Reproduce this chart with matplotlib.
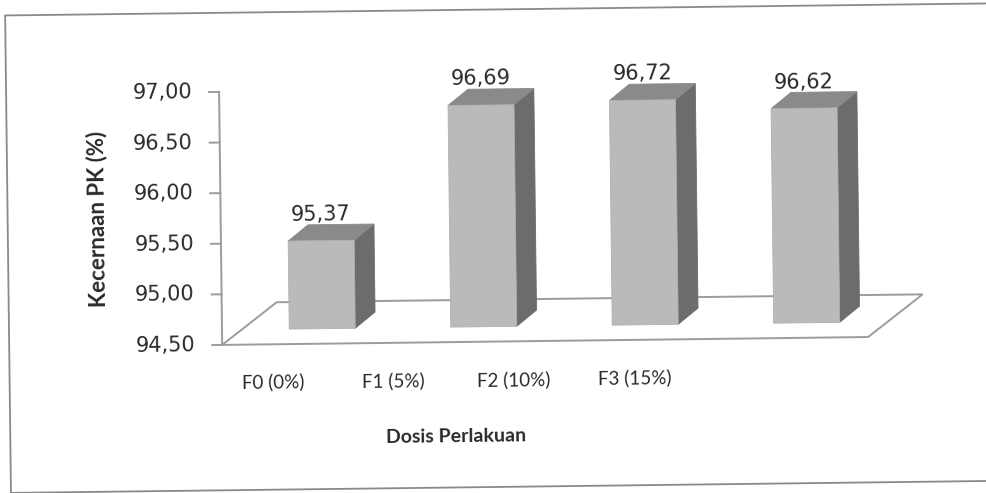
import matplotlib
matplotlib.use("Agg")
import matplotlib.pyplot as plt
from matplotlib.patches import Polygon, Rectangle
from matplotlib.transforms import Affine2D

# data
categories = ["F0 (0%)", "F1 (5%)", "F2 (10%)", "F3 (15%)"]
values = [95.37, 96.69, 96.72, 96.62]
value_labels = ["95,37", "96,69", "96,72", "96,62"]
yticks = [94.5, 95.0, 95.5, 96.0, 96.5, 97.0]
ytick_labels = ["94,50", "95,00", "95,50", "96,00", "96,50", "97,00"]
ylabel = "Kecernaan PK (%)"
xlabel = "Dosis Perlakuan"

# colours
FRONT = "#bababa"
TOP = "#8a8a8a"
SIDE = "#6c6c6c"
EDGE = "#9c9c9c"
TXT = "#2a2a2a"

W, H = 986, 493
fig = plt.figure(figsize=(W / 100, H / 100), dpi=100)
fig.patch.set_facecolor("white")

# plot area (front plane of the 3-d box)
AX_L, AX_B, AX_W, AX_H = 221, 493 - 341.6, 646, 253
ax = fig.add_axes([AX_L / W, AX_B / H, AX_W / W, AX_H / H])
ax.set_xlim(0, len(categories))
ax.set_ylim(yticks[0], yticks[-1])
ax.axis("off")

# the whole page sits a little crooked
ANG = 0.7
tilt = Affine2D().rotate_deg_around(W / 2, H / 2, ANG)
T = ax.transData + tilt

sx = len(categories) / AX_W
sy = (yticks[-1] - yticks[0]) / AX_H


def off(dx, dy):
    """pixel offset -> data offset"""
    return dx * sx, dy * sy


y0 = yticks[0]
n = len(categories)

# floor
fx, fy = off(55, 42)
floor = Polygon([(0, y0), (n, y0), (n + fx, y0 + fy), (fx, y0 + fy)],
                closed=True, facecolor="white", edgecolor=EDGE, lw=1.4,
                transform=T, clip_on=False, zorder=1)
ax.add_patch(floor)

# value axis + ticks
ax.plot([0, 0], [y0, yticks[-1]], color=EDGE, lw=1.4, transform=T,
        clip_on=False, zorder=2)
tk, _ = off(10, 0)
gap, _ = off(27, 0)
for v, lab in zip(yticks, ytick_labels):
    ax.plot([-tk, 0], [v, v], color=EDGE, lw=1.4, transform=T,
            clip_on=False, zorder=2)
    ax.text(-gap, v, lab, ha="right", va="center", fontsize=15,
            color=TXT, family="DejaVu Sans", rotation=ANG,
            rotation_mode="anchor", transform=T)

# bars
hw, _ = off(33, 0)
ox, oy = off(19.5, 15)
bx, by = off(20, 16)
_, lab_gap = off(0, 4)
for i, (v, lab) in enumerate(zip(values, value_labels)):
    xl = i + 0.5 - hw + ox
    xr = i + 0.5 + hw + ox
    yb = y0 + oy
    yt = v + oy
    side = Polygon([(xr, yb), (xr + bx, yb + by), (xr + bx, yt + by), (xr, yt)],
                   closed=True, facecolor=SIDE, edgecolor=SIDE, lw=0.6,
                   transform=T, clip_on=False, zorder=3)
    top = Polygon([(xl, yt), (xr, yt), (xr + bx, yt + by), (xl + bx, yt + by)],
                  closed=True, facecolor=TOP, edgecolor=TOP, lw=0.6,
                  transform=T, clip_on=False, zorder=3)
    front = Polygon([(xl, yb), (xr, yb), (xr, yt), (xl, yt)],
                    closed=True, facecolor=FRONT, edgecolor="#b0b0b0", lw=0.6,
                    transform=T, clip_on=False, zorder=4)
    for p in (side, top, front):
        ax.add_patch(p)
    ax.text(i + 0.5 + ox, yt + by + lab_gap, lab, ha="center",
            va="baseline", fontsize=15, color=TXT, family="DejaVu Sans",
            rotation=ANG, rotation_mode="anchor", transform=T, zorder=5)

# category labels (perspective squeezes them toward the axis)
_, cat_dy = off(0, 38)
cx0, _ = off(50, 0)
cstep, _ = off(120.7, 0)
for i, c in enumerate(categories):
    ax.text(cx0 + i * cstep, y0 - cat_dy, c, ha="center", va="center",
            fontsize=13.5, color=TXT, family="Lato", rotation=ANG,
            rotation_mode="anchor", transform=T)

# axis titles
_, xl_dy = off(0, 95)
xl_x, _ = off(233, 0)
ax.text(xl_x, y0 - xl_dy, xlabel, ha="center", va="center", fontsize=14,
        weight="bold", color=TXT, family="Lato", rotation=ANG,
        rotation_mode="anchor", transform=T)
yl_x, _ = off(-123, 0)
_, yl_dy = off(0, 341.6 - 214)
ax.text(yl_x, y0 + yl_dy, ylabel, ha="center", va="center", fontsize=16,
        weight="bold", color=TXT, family="Lato", rotation=90 + ANG,
        rotation_mode="anchor", transform=T)

# chart frame (right edge runs off the page)
frame = Rectangle((8, 6), 1010, 477.5, facecolor="none", edgecolor="#8a8a8a",
                  lw=1.3, transform=tilt)
fig.add_artist(frame)

fig.savefig("out.png", dpi=100, facecolor="white")
